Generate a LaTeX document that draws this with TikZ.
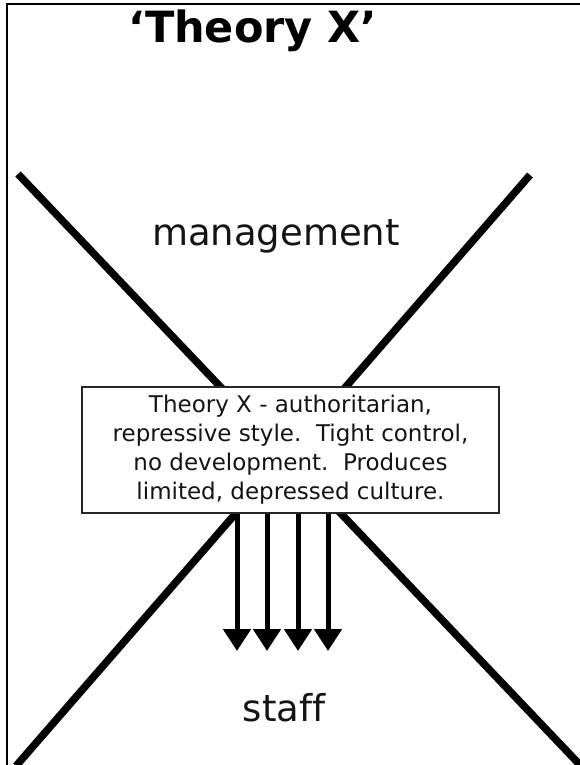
\documentclass[tikz,border=0pt]{standalone}
\usepackage{fontspec}
\setmainfont{DejaVu Sans}[Ligatures={TeX,NoCommon}]
\usetikzlibrary{arrows.meta}
\tikzset{
  xline/.style={line width=7.5pt, line cap=butt},
  frame/.style={line width=2pt},
  textbox/.style={draw=black!85, line width=1.5pt, fill=white, minimum width=417pt, minimum height=126pt, align=center, inner sep=0pt, text=black!92, font=\fontsize{23}{29}\selectfont},
  downarrow/.style={line width=5pt, -{Triangle[width=27pt,length=22pt]}},
  label/.style={anchor=base, text=black!92}
}
\begin{document}
\begin{tikzpicture}[x=1pt,y=-1pt]
\useasboundingbox (0,0) rectangle (580,765);
\fill[white] (0,0) rectangle (580,765);
\draw[frame] (7,766) -- (7,4) -- (581,4);
\coordinate (a1) at (18,174);
\coordinate (a2) at (581,766);
\coordinate (b1) at (530,175);
\coordinate (b2) at (16,766);
\draw[xline] (a1) -- (a2);
\draw[xline] (b1) -- (b2);
\node[label, text=black, font=\fontsize{43}{50}\selectfont\bfseries] (title) at (253,43) {‘Theory X’};
\node[label, font=\fontsize{37}{44}\selectfont] (mgmt) at (276,245) {management};
\node[label, font=\fontsize{37}{44}\selectfont] (staff) at (284,721) {staff};
\node[textbox] (box) at (290.5,450) {Theory X - authoritarian,\\ repressive style.\ \ Tight control,\\ no development.\ \ Produces\\ limited, depressed culture.};
\coordinate (t1) at (237,651);
\coordinate (t2) at (267,651);
\coordinate (t3) at (298,651);
\coordinate (t4) at (328,651);
\foreach \t in {t1,t2,t3,t4}
  \draw[downarrow] (box.south -| \t) -- (\t);
\end{tikzpicture}
\end{document}
